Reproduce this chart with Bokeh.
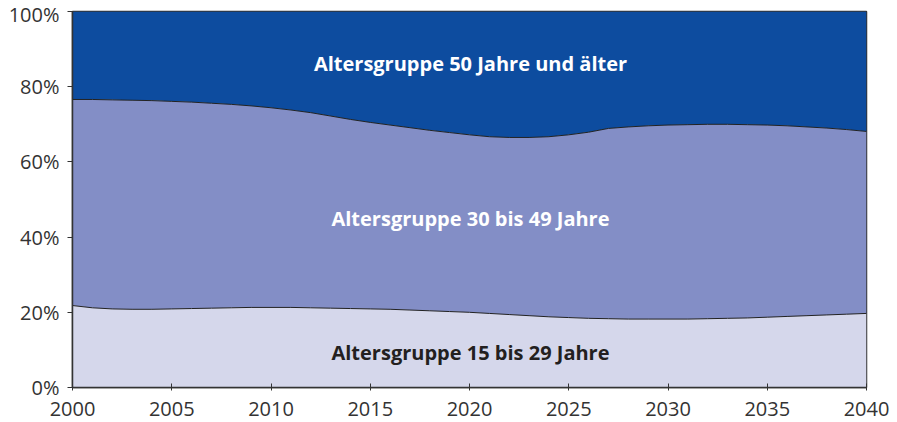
from bokeh.plotting import figure
from bokeh.models import ColumnDataSource, FixedTicker, Range1d
from bokeh.core.properties import value
from bokeh.transform import stack
from bokeh.embed import file_html
from bokeh.resources import INLINE

years = list(range(2000, 2041))
age_15_29 = [21.8, 21.2, 20.9, 20.8, 20.8, 20.9, 21.0, 21.1, 21.2, 21.3, 21.3, 21.3, 21.2, 21.1,
             21.0, 20.9, 20.8, 20.6, 20.4, 20.2, 20.0, 19.7, 19.4, 19.1, 18.8, 18.6, 18.4, 18.3,
             18.2, 18.2, 18.2, 18.2, 18.3, 18.4, 18.5, 18.7, 18.9, 19.1, 19.3, 19.5, 19.7]
age_30_49 = [54.8, 55.4, 55.6, 55.6, 55.5, 55.2, 54.9, 54.5, 54.1, 53.6, 53.1, 52.5, 51.9, 51.1,
             50.3, 49.6, 49.0, 48.5, 48.0, 47.6, 47.2, 47.0, 47.1, 47.4, 47.9, 48.6, 49.5, 50.6,
             51.1, 51.4, 51.6, 51.7, 51.7, 51.6, 51.4, 51.1, 50.7, 50.2, 49.7, 49.1, 48.4]
age_50_plus = [23.4, 23.4, 23.5, 23.6, 23.7, 23.9, 24.1, 24.4, 24.7, 25.1, 25.6, 26.2, 26.9, 27.8,
               28.7, 29.5, 30.2, 30.9, 31.6, 32.2, 32.8, 33.3, 33.5, 33.5, 33.3, 32.8, 32.1, 31.1,
               30.7, 30.4, 30.2, 30.1, 30.0, 30.0, 30.1, 30.2, 30.4, 30.7, 31.0, 31.4, 31.9]

series_names = ["a15_29", "a30_49", "a50"]
series_labels = ["Altersgruppe 15 bis 29 Jahre", "Altersgruppe 30 bis 49 Jahre",
                 "Altersgruppe 50 Jahre und älter"]
label_year = [2020.05, 2020.05, 2020.05]
label_pos = [9.3, 45.0, 86.2]
label_colors = ["#231f20", "#ffffff", "#ffffff"]
colors = ["#d5d7eb", "#838ec6", "#0d4c9f"]

x_ticks = [2000, 2005, 2010, 2015, 2020, 2025, 2030, 2035, 2040]
y_ticks = [0, 20, 40, 60, 80, 100]
y_tick_labels = ["0%", "20%", "40%", "60%", "80%", "100%"]

src = ColumnDataSource(dict(x=years, a15_29=age_15_29, a30_49=age_30_49, a50=age_50_plus))

p = figure(width=895, height=420, output_backend="svg", toolbar_location=None,
           x_range=Range1d(2000, 2040), y_range=Range1d(0, 100),
           min_border_left=72, min_border_right=29, min_border_top=11, min_border_bottom=33)

p.varea_stack(stackers=series_names, x="x", color=colors, source=src)
p.line(x="x", y=stack(series_names[0]), line_color="#222222", line_width=1, source=src)
p.line(x="x", y=stack(series_names[0], series_names[1]), line_color="#222222", line_width=1,
       source=src)

lsrc = ColumnDataSource(dict(x=label_year, y=label_pos, t=series_labels, c=label_colors))
p.text(x="x", y="y", text="t", text_color="c", source=lsrc, text_align="center",
       text_baseline="middle", text_font=value("Open Sans"), text_font_style="bold",
       text_font_size="20px")

p.xgrid.visible = False
p.ygrid.visible = False
p.outline_line_color = "#333333"
p.outline_line_width = 1.5

p.xaxis.ticker = FixedTicker(ticks=x_ticks)
p.xaxis.major_label_overrides = {t: str(t) for t in x_ticks}
p.yaxis.ticker = FixedTicker(ticks=y_ticks)
p.yaxis.major_label_overrides = {t: l for t, l in zip(y_ticks, y_tick_labels)}

for ax in (p.xaxis, p.yaxis):
    ax.axis_line_color = "#333333"
    ax.axis_line_width = 1.5
    ax.major_tick_line_color = "#333333"
    ax.minor_tick_line_color = None
    ax.major_label_text_font = "Open Sans"
    ax.major_label_text_font_size = "20px"
    ax.major_label_text_color = "#333333"

p.xaxis.major_tick_in = 4
p.xaxis.major_tick_out = 3
p.xaxis.major_label_standoff = 11
p.yaxis.major_tick_in = 0
p.yaxis.major_tick_out = 5
p.yaxis.major_label_standoff = 8

open("out.html", "w").write(file_html(p, INLINE))
